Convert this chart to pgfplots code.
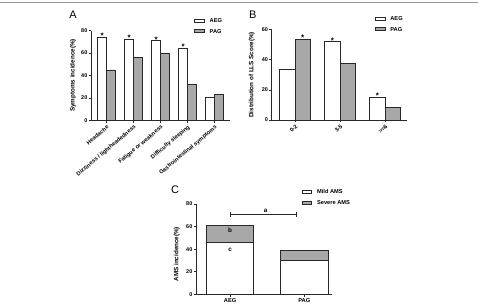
\documentclass[border=0pt]{standalone}
\usepackage{fontspec}
\setmainfont{Liberation Sans}
\usepackage{pgfplots}
\pgfplotsset{compat=1.18}
\usetikzlibrary{arrows.meta}

\definecolor{barfill}{RGB}{168,168,168}
\definecolor{baredge}{RGB}{40,40,40}
\definecolor{framegray}{RGB}{150,150,150}

\tikzset{
  sigstar/.style={font=\fontsize{8}{8}\selectfont\bfseries, inner sep=0pt, anchor=north, yshift=4.3bp},
  annot/.style={font=\fontsize{6.3}{7}\selectfont\bfseries},
}

\pgfplotsset{
  prism/.style={
    scale only axis,
    anchor=south west,
    axis x line*=bottom,
    axis y line*=left,
    axis line style={baredge, line width=0.7bp},
    tick style={baredge, line width=0.7bp},
    tick align=outside,
    major tick length=2.5bp,
    ymin=0,
    enlarge y limits=false,
    clip=false,
    /pgf/number format/assume math mode=true,
    yticklabel style={font=\fontsize{5.5}{6}\selectfont\bfseries, inner sep=1bp},
    xticklabel style={font=\fontsize{5.7}{6}\selectfont\bfseries},
    label style={font=\fontsize{6.3}{7}\selectfont\bfseries},
    legend style={draw=none, fill=none, inner sep=0pt, row sep=5.5bp,
      font=\fontsize{5.7}{6}\selectfont\bfseries,
      nodes={inner sep=0.5bp, text height=4bp, text depth=0bp},
      cells={anchor=west},
      /tikz/every odd column/.append style={column sep=4.5bp}},
  },
  boxlegend/.style={legend image code/.code={%
      \draw[##1, line width=0.7bp] (0bp,-1.5bp) rectangle (9.5bp,1.5bp);}},
  aeg/.style={fill=white, draw=baredge, line width=0.7bp, boxlegend},
  pag/.style={fill=barfill, draw=baredge, line width=0.7bp, boxlegend},
}

\begin{document}
\begin{tikzpicture}
\useasboundingbox (0,0) rectangle (478bp,307bp);
\draw[framegray, line width=1bp] (0,304bp) -- (478bp,304bp);

% Panel letters
\node[font=\fontsize{11}{12}\selectfont] at (73bp,292bp) {A};
\node[font=\fontsize{11}{12}\selectfont] at (252.7bp,292bp) {B};
\node[font=\fontsize{11}{12}\selectfont] at (175bp,117.7bp) {C};

% ---------- A: symptoms ----------
\begin{axis}[prism,
  at={(91bp,186.5bp)}, width=139bp, height=90bp,
  xmin=-0.58, xmax=4.57, ymax=80, ytick={0,20,40,60,80},
  xtick={0,1,2,3,4},
  xticklabels={Headache, Dizziness / lightheadedness, Fatigue or weakness, Difficulty sleeping, Gastrointestinal symptoms},
  xticklabel style={rotate=40, anchor=north east, inner sep=1bp},
  ybar=0pt, bar width=9bp,
  ylabel={Symptoms incidence(\%)},
  ylabel style={at={(axis description cs:-0.13,0.5)}, anchor=center},
  legend style={at={(0.743,1.052)}, anchor=west},
  after end axis/.append code={
    \node[sigstar] at (axis cs:-0.167,74) {*};
    \node[sigstar] at (axis cs:0.833,72) {*};
    \node[sigstar] at (axis cs:1.833,71) {*};
    \node[sigstar] at (axis cs:2.833,64) {*};
  },
]
\addplot[aeg] coordinates {(0,74) (1,72) (2,71) (3,64) (4,21)};
\addplot[pag] coordinates {(0,45) (1,56) (2,60) (3,32) (4,23)};
\legend{AEG, PAG}
\end{axis}

% ---------- B: LLS score ----------
\begin{axis}[prism,
  at={(271.7bp,187bp)}, width=135bp, height=90.3bp,
  xmin=-0.52, xmax=2.48, ymax=60, ytick={0,20,40,60},
  xtick={0,1,2}, xticklabels={0-2, 3-5, >=6},
  xticklabel style={rotate=45, anchor=north east, inner sep=1bp},
  ybar=0pt, bar width=15.3bp,
  ylabel={Distribution of LLS Score(\%)},
  ylabel style={at={(axis description cs:-0.148,0.5)}, anchor=center},
  legend style={at={(0.765,1.062)}, anchor=west},
  after end axis/.append code={
    \node[sigstar] at (axis cs:0.17,53.8) {*};
    \node[sigstar] at (axis cs:0.83,52) {*};
    \node[sigstar] at (axis cs:1.83,15.3) {*};
  },
]
\addplot[aeg] coordinates {(0,33.4) (1,52) (2,15.3)};
\addplot[pag] coordinates {(0,53.8) (1,37.4) (2,8.4)};
\legend{AEG, PAG}
\end{axis}

% ---------- C: AMS incidence ----------
\begin{axis}[prism,
  at={(196bp,12.7bp)}, width=135.7bp, height=90.3bp,
  xmin=-0.46, xmax=1.37, ymax=80, ytick={0,20,40,60,80},
  xtick={0,1}, xticklabels={AEG, PAG},
  xticklabel style={inner sep=1.5bp},
  ybar stacked, bar width=47.3bp,
  ylabel={AMS incidence(\%)},
  ylabel style={at={(axis description cs:-0.142,0.445)}, anchor=center},
  legend style={at={(0.779,1.076)}, anchor=west},
  after end axis/.append code={
    \draw[baredge, line width=0.7bp, {Bar[width=4.5bp]}-{Bar[width=4.5bp]}]
      (axis cs:0,70.8) -- (axis cs:0.9,70.8);
    \node[annot, anchor=south, inner sep=1.5bp] at (axis cs:0.48,70.8) {a};
    \node[annot] at (axis cs:0,56.3) {b};
    \node[annot] at (axis cs:0,39.2) {c};
  },
]
\addplot[aeg] coordinates {(0,45.8) (1,30.3)};
\addplot[pag] coordinates {(0,15) (1,8.2)};
\legend{Mild AMS, Severe AMS}
\end{axis}
\end{tikzpicture}
\end{document}
